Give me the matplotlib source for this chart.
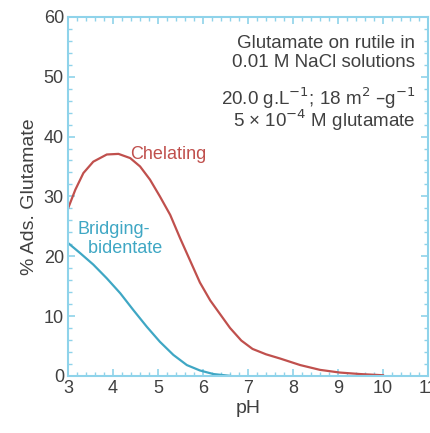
import matplotlib
matplotlib.use("Agg")
import matplotlib.pyplot as plt
import numpy as np
from matplotlib.ticker import MultipleLocator

plt.rcParams['font.family'] = ['Liberation Sans', 'DejaVu Sans']

# values
ph_chel = [3.0, 3.16, 3.34, 3.56, 3.86, 4.12, 4.38, 4.6, 4.82, 5.04, 5.27, 5.49,
           5.71, 5.93, 6.16, 6.38, 6.6, 6.85, 7.1, 7.4, 7.71, 8.16, 8.6, 9.04, 9.49, 10.0]
ads_chel = [28.0, 31.1, 33.9, 35.8, 37.0, 37.1, 36.4, 35.0, 32.8, 30.0, 26.9, 23.0,
            19.3, 15.6, 12.6, 10.3, 8.0, 5.9, 4.5, 3.6, 2.9, 1.8, 1.0, 0.55, 0.3, 0.1]

ph_brid = [3.0, 3.27, 3.56, 3.86, 4.16, 4.45, 4.75, 5.04, 5.34, 5.64, 5.93, 6.23, 6.6]
ads_brid = [22.2, 20.5, 18.6, 16.3, 13.8, 11.0, 8.2, 5.7, 3.5, 1.8, 0.9, 0.3, 0.0]

red = '#c0504d'
blue = '#3fa7c4'
frame = '#8fd3ea'
grey = '#404040'

fig = plt.figure(figsize=(4.31, 4.33), dpi=100)
ax = fig.add_axes([0.158, 0.132, 0.835, 0.829])

ax.plot(ph_chel, ads_chel, color=red, lw=1.6, solid_joinstyle='round')
ax.plot(ph_brid, ads_brid, color=blue, lw=1.6, solid_joinstyle='round')

ax.set_xlim(3, 11)
ax.set_ylim(0, 60)
ax.xaxis.set_major_locator(MultipleLocator(1))
ax.xaxis.set_minor_locator(MultipleLocator(0.2))
ax.yaxis.set_major_locator(MultipleLocator(10))
ax.yaxis.set_minor_locator(MultipleLocator(2))
ax.tick_params(which='both', direction='in', top=True, right=True, color=frame,
               labelcolor=grey, labelsize=13)
ax.tick_params(which='major', length=5, width=1.2, pad=3)
ax.tick_params(which='minor', length=3, width=1)
for s in ax.spines.values():
    s.set_color(frame)
    s.set_linewidth(1.5)
    s.set_linestyle((0, (2, 1)))

ax.set_xlabel('pH', color=grey, fontsize=14, labelpad=2)
ax.set_ylabel('% Ads. Glutamate', color=grey, fontsize=14, labelpad=4)

ax.text(4.38, 36.3, 'Chelating', color=red, fontsize=13)
ax.text(3.22, 25.8, 'Bridging-\n  bidentate', color=blue, fontsize=13,
        va='top', linespacing=1.1)

ax.text(10.72, 57.0, 'Glutamate on rutile in\n0.01 M NaCl solutions', color=grey,
        fontsize=13.5, ha='right', va='top', linespacing=1.2)
ax.text(10.72, 48.6, '20.0 g.L$^{-1}$; 18 m$^{2}$ –g$^{-1}$\n5 × 10$^{-4}$ M glutamate',
        color=grey, fontsize=13.5, ha='right', va='top', linespacing=0.85)

fig.savefig('out.png', dpi=100)
